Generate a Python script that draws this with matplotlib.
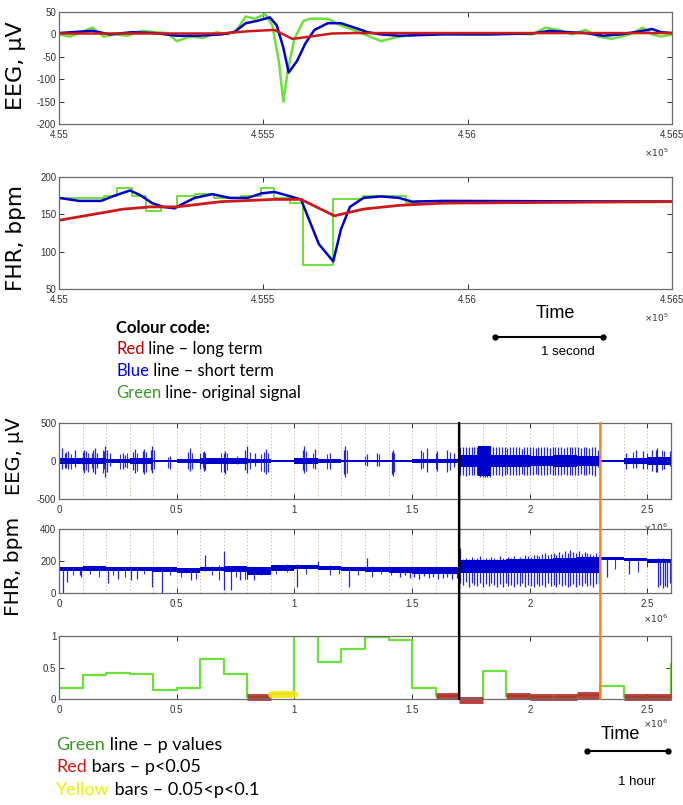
import numpy as np
import matplotlib
matplotlib.use('Agg')
import matplotlib.pyplot as plt
from matplotlib.patches import ConnectionPatch

plt.rcParams['axes.unicode_minus'] = False
plt.rcParams['font.family'] = ['Liberation Sans', 'DejaVu Sans']

W, H = 683, 805

# ---- short window (x in samples, around 4.55e5) ----
eeg_green_t = [455000, 455027, 455054, 455082, 455109, 455136, 455168, 455201, 455234, 455266,
               455288, 455321, 455353, 455386, 455413, 455435, 455457, 455478, 455505, 455522,
               455538, 455549, 455560, 455576, 455598, 455614, 455658, 455690, 455734, 455788,
               455832, 455886, 455940, 455995, 456049, 456103, 456158, 456190, 456223, 456255,
               456288, 456321, 456353, 456397, 456429, 456451, 456473, 456500]
eeg_green_v = [0, -5, 5, 15, -5, 0, -3, 8, 5, 3,
               -15, -5, -8, 5, 0, 10, 40, 35, 45, 20,
               -60, -150, -80, -10, 30, 35, 35, 20, 5, -15,
               -5, 0, 3, 0, 0, 2, 0, 15, 10, 0,
               10, -5, -10, 0, 15, 0, -5, 0]
eeg_blue_t = [455000, 455082, 455125, 455179, 455234, 455288, 455342, 455397, 455429, 455457,
              455484, 455516, 455533, 455549, 455562, 455582, 455603, 455625, 455658, 455690,
              455723, 455755, 455788, 455832, 455940, 456049, 456158, 456201, 456245, 456288,
              456332, 456375, 456429, 456451, 456473, 456500]
eeg_blue_v = [3, 8, 0, 5, 3, -3, -3, 0, 5, 25,
              30, 38, 20, -30, -85, -60, -20, 10, 25, 25,
              15, 5, 0, -3, 0, 0, 2, 8, 5, 3,
              -3, 0, 8, 12, 5, 3]
eeg_red_t = [455000, 455397, 455462, 455527, 455549, 455571, 455614, 455668, 455723, 456500]
eeg_red_v = [2, 2, 7, 10, 0, -10, -5, 2, 3, 3]

fhr_green_edges = [455000, 455109, 455141, 455179, 455212, 455250, 455288, 455332, 455380, 455446,
                   455495, 455527, 455565, 455598, 455671, 455745, 455848, 455875, 456500]
fhr_green_v = [172, 175, 185, 175, 155, 160, 175, 177, 172, 175,
               185, 172, 165, 82, 170, 175, 165, 168]
fhr_blue_t = [455000, 455049, 455103, 455136, 455174, 455201, 455228, 455255, 455283, 455299,
              455332, 455375, 455418, 455462, 455495, 455527, 455560, 455592, 455614, 455636,
              455671, 455690, 455712, 455745, 455788, 455832, 455864, 455940, 456500]
fhr_blue_v = [172, 168, 168, 175, 182, 175, 165, 160, 158, 163,
              172, 177, 172, 172, 178, 180, 175, 170, 140, 110,
              87, 130, 160, 172, 174, 172, 167, 168, 167]
fhr_red_t = [455000, 455157, 455223, 455288, 455397, 455527, 455592, 455674, 455745, 455832, 455940, 456500]
fhr_red_v = [142, 157, 160, 160, 167, 170, 170, 148, 157, 162, 165, 167]

# ---- long recording (x in 1e6 samples) ----
bins = np.round(np.arange(0, 2.61, 0.1), 2)
eeg_core = [40, 45, 30, 40, 15, 30, 35, 35, 30, 15, 35, 20, 15,
            15, 10, 25, 25, 75, 80, 75, 70, 75, 70, 15, 40, 50]
eeg_burst = [1.78, 1.835]
eeg_spk_t = [0.011, 0.025, 0.04, 0.068, 0.1, 0.108, 0.145, 0.153, 0.16, 0.196, 0.205, 0.217,
             0.274, 0.28, 0.315, 0.323, 0.355, 0.363, 0.39, 0.397, 0.472, 0.55, 0.557, 0.614,
             0.62, 0.7, 0.706, 0.756, 0.792, 0.799, 0.834, 0.872, 0.879, 1.035, 1.04, 1.087,
             1.153, 1.21, 1.217, 1.309, 1.352, 1.414, 1.419, 1.536, 1.565, 1.607, 1.65, 1.678,
             1.705, 1.717, 1.729, 1.741, 1.753, 1.765, 1.777, 1.789, 1.80, 1.81, 1.82, 1.83,
             1.845, 1.857, 1.869, 1.881, 1.893, 1.905, 1.917, 1.929, 1.941, 1.953, 1.965, 1.977,
             1.989, 2.001, 2.013, 2.025, 2.037, 2.049, 2.061, 2.073, 2.085, 2.097, 2.109, 2.121,
             2.133, 2.145, 2.157, 2.169, 2.181, 2.193, 2.205, 2.217, 2.229, 2.241, 2.253, 2.265,
             2.277, 2.289, 2.41, 2.45, 2.48, 2.52, 2.535, 2.54, 2.57, 2.595]
eeg_spk_hi = [174, 110, 130, 150, 120, 143, 150, 174, 110, 196, 140, 110,
              110, 80, 120, 152, 130, 152, 150, 196, 60, 120, 174, 130,
              100, 110, 130, 65, 150, 196, 110, 120, 152, 150, 196, 152,
              110, 150, 196, 90, 110, 120, 150, 150, 175, 130, 150, 110,
              190, 185, 190, 180, 190, 185, 190, 200, 200, 200, 200, 200,
              185, 190, 180, 190, 185, 170, 190, 185, 180, 190, 160, 185,
              190, 180, 185, 170, 190, 180, 185, 190, 175, 185, 190, 180,
              185, 170, 190, 185, 180, 190, 185, 170, 180, 185, 175, 190,
              180, 150, 110, 150, 130, 150, 140, 175, 130, 130]
eeg_spk_lo = [109, 90, 110, 80, 120, 152, 150, 174, 90, 217, 150, 60,
              110, 80, 120, 152, 150, 174, 120, 152, 110, 100, 130, 130,
              120, 150, 174, 40, 120, 152, 60, 150, 174, 120, 152, 110,
              110, 170, 217, 60, 60, 170, 200, 110, 150, 130, 150, 80,
              190, 185, 195, 180, 190, 190, 185, 210, 210, 210, 210, 210,
              190, 185, 180, 195, 185, 175, 190, 180, 185, 190, 165, 180,
              190, 185, 180, 175, 190, 185, 180, 190, 170, 185, 190, 180,
              185, 175, 190, 180, 185, 190, 180, 175, 185, 180, 170, 190,
              200, 80, 110, 90, 110, 130, 150, 150, 110, 60]
# smaller spikes inside the clusters
eeg_spk2_t = [0.03, 0.05, 0.115, 0.125, 0.14, 0.185, 0.19, 0.26, 0.29, 0.33, 0.37, 0.405,
              0.465, 0.565, 0.6, 0.61, 0.69, 0.715, 0.81, 0.86, 0.89, 1.05, 1.08, 1.14,
              1.225, 1.3, 1.36, 1.425, 1.545, 1.6, 1.66, 2.44, 2.5, 2.56]
eeg_spk2_hi = [120, 90, 130, 110, 100, 150, 130, 90, 100, 110, 120, 140,
               50, 110, 100, 120, 100, 110, 120, 90, 110, 130, 110, 90,
               140, 70, 90, 110, 120, 100, 120, 120, 110, 140]
eeg_spk2_lo = [90, 100, 120, 140, 90, 160, 110, 100, 90, 130, 140, 110,
               90, 100, 110, 90, 140, 120, 110, 130, 150, 130, 90, 100,
               160, 50, 60, 150, 90, 110, 120, 90, 100, 120]

fhr_top = [165, 168, 162, 160, 160, 155, 165, 170, 165, 172, 175, 170, 165,
           162, 162, 160, 165, 205, 205, 210, 215, 220, 225, 225, 218, 215]
fhr_bot = [135, 138, 135, 135, 132, 128, 135, 132, 115, 140, 150, 145, 140,
           132, 128, 120, 118, 125, 125, 125, 125, 125, 125, 205, 198, 190]
fhr_spk_t = [0.015, 0.035, 0.09, 0.095, 0.21, 0.25, 0.305, 0.33, 0.394, 0.437, 0.56, 0.62,
             0.70, 0.73, 0.77, 0.80, 0.83, 1.01, 1.10, 1.23, 1.309,
             1.45, 1.47, 1.49, 1.51, 1.53, 1.55, 1.57, 1.59, 1.61, 1.63, 1.65, 1.67, 1.69,
             1.705, 1.717, 1.729, 1.741, 1.753, 1.765, 1.777, 1.789, 1.801, 1.813, 1.825, 1.837,
             1.849, 1.861, 1.873, 1.885, 1.897, 1.909, 1.921, 1.933, 1.945, 1.957, 1.969, 1.981,
             1.993, 2.005, 2.017, 2.029, 2.041, 2.053, 2.065, 2.077, 2.089, 2.101, 2.113, 2.125,
             2.137, 2.149, 2.161, 2.173, 2.185, 2.197, 2.209, 2.221, 2.233, 2.245, 2.257, 2.269,
             2.281, 2.293, 2.33, 2.42, 2.545, 2.555, 2.565, 2.575, 2.585, 2.595]
fhr_spk_hi = [160, 160, 160, 160, 160, 160, 160, 160, 160, 155, 150, 240,
              260, 160, 160, 160, 160, 180, 200, 160, 220,
              160, 160, 160, 160, 160, 160, 160, 160, 160, 160, 160, 160, 160,
              280, 215, 220, 210, 225, 215, 220, 230, 215, 220, 210, 225,
              220, 215, 230, 220, 215, 225, 220, 230, 215, 225, 220, 235,
              230, 225, 240, 235, 230, 245, 250, 240, 245, 250, 240, 255,
              245, 260, 250, 270, 255, 250, 260, 245, 255, 250, 245, 240,
              250, 245, 215, 210, 220, 215, 220, 215, 215, 210]
fhr_spk_lo = [0, 70, 110, 100, 60, 90, 80, 90, 40, 0, 80, 140,
              20, 20, 80, 90, 80, 40, 150, 40, 140,
              100, 110, 95, 100, 90, 105, 95, 100, 90, 95, 100, 90, 95,
              60, 50, 70, 40, 60, 50, 45, 60, 40, 55, 45, 60,
              50, 40, 55, 35, 60, 45, 50, 40, 55, 45, 60, 40,
              50, 45, 40, 55, 45, 50, 40, 60, 45, 50, 40, 55,
              45, 50, 40, 45, 55, 40, 50, 45, 60, 45, 50, 40,
              55, 60, 100, 120, 40, 50, 30, 45, 35, 60]
fhr_spk2_t = [0.06, 0.13, 0.17, 0.23, 0.28, 0.36, 0.47, 0.52, 0.58, 0.65, 0.68, 0.75, 0.79,
              0.86, 0.92, 0.97, 1.05, 1.15, 1.19, 1.27, 1.33, 1.37, 1.41, 2.36, 2.46, 2.5]
fhr_spk2_hi = [165, 165, 162, 162, 160, 160, 158, 155, 155, 170, 175, 168, 168,
               165, 170, 180, 175, 172, 170, 165, 168, 165, 165, 222, 215, 212]
fhr_spk2_lo = [110, 120, 100, 110, 100, 120, 110, 100, 90, 110, 80, 100, 90,
               110, 120, 130, 120, 110, 120, 110, 100, 120, 110, 150, 130, 160]

p_values = [0.17, 0.38, 0.41, 0.39, 0.14, 0.17, 0.64, 0.39, 0.03, 0.08, 1.0, 0.58, 0.80,
            0.98, 0.94, 0.17, 0.04, -0.02, 0.45, 0.04, 0.03, 0.03, 0.06, 0.20, 0.03, 0.03]
p_last = 0.55
red_bins = [8, 16, 17, 19, 20, 21, 22, 24, 25]
yellow_bins = [9]
event_black = 1.7
event_orange = 2.3

BLUE = '#0000cc'
GREEN = '#6ee03a'
RED = '#cc1a1a'


def box(top, bottom, left=59, right=672):
    return [left / W, 1 - bottom / H, (right - left) / W, (bottom - top) / H]


def matlab_axes(ax):
    for s in ax.spines.values():
        s.set_color('#6a6a6a')
        s.set_linewidth(0.9)
    ax.tick_params(direction='in', top=True, right=True, length=3.5, width=0.7,
                   color='#333333', labelsize=7, labelcolor='#333333', pad=2)
    ax.tick_params(axis='x', pad=4)


fig = plt.figure(figsize=(W / 100, H / 100), dpi=100)

# ---------- panel 1: EEG short ----------
ax1 = fig.add_axes(box(12, 124))
ax1.plot(eeg_green_t, eeg_green_v, color=GREEN, lw=1.8)
ax1.plot(eeg_blue_t, eeg_blue_v, color=BLUE, lw=1.8)
ax1.plot(eeg_red_t, eeg_red_v, color=RED, lw=1.8)
ax1.set_ylim(-200, 50)
ax1.set_yticks([50, 0, -50, -100, -150, -200])

# ---------- panel 2: FHR short ----------
ax2 = fig.add_axes(box(177, 289))
ax2.step(fhr_green_edges, fhr_green_v + [fhr_green_v[-1]], where='post', color=GREEN, lw=1.4)
ax2.plot(fhr_blue_t, fhr_blue_v, color=BLUE, lw=1.8)
ax2.plot(fhr_red_t, fhr_red_v, color=RED, lw=2.0)
ax2.set_ylim(50, 200)
ax2.set_yticks([50, 100, 150, 200])

for ax in (ax1, ax2):
    matlab_axes(ax)
    ax.set_xlim(455000, 456500)
    ax.set_xticks([455000, 455500, 456000, 456500])
    ax.set_xticklabels(['4.55', '4.555', '4.56', '4.565'])
    ax.text(0.975, -0.2, r'$\times10^{5}$', transform=ax.transAxes, fontsize=6.5,
            color='#333333', ha='center', va='top')

# ---------- panel 3: EEG long ----------
ax3 = fig.add_axes(box(423, 499, right=671))
core = np.r_[eeg_core, eeg_core[-1]]
ax3.fill_between(bins, -core, core, step='post', color=BLUE, lw=0)
ax3.fill_between(eeg_burst, -195, 195, color=BLUE, lw=0)
ax3.vlines(eeg_spk_t, -np.array(eeg_spk_lo), eeg_spk_hi, color=BLUE, lw=0.9, alpha=0.85)
ax3.vlines(eeg_spk2_t, -np.array(eeg_spk2_lo), eeg_spk2_hi, color=BLUE, lw=0.8, alpha=0.8)
ax3.set_ylim(-500, 500)
ax3.set_yticks([-500, 0, 500])

# ---------- panel 4: FHR long ----------
ax4 = fig.add_axes(box(529, 593, right=671))
ax4.fill_between(bins, np.r_[fhr_bot, fhr_bot[-1]], np.r_[fhr_top, fhr_top[-1]],
                 step='post', color=BLUE, lw=0)
ax4.vlines(fhr_spk_t, fhr_spk_lo, fhr_spk_hi, color=BLUE, lw=0.9, alpha=0.85)
ax4.vlines(fhr_spk2_t, fhr_spk2_lo, fhr_spk2_hi, color=BLUE, lw=0.8, alpha=0.8)
ax4.set_ylim(0, 400)
ax4.set_yticks([0, 200, 400])

# ---------- panel 5: p values ----------
ax5 = fig.add_axes(box(636, 699, right=671))
pv = np.r_[p_values, p_last]
ax5.step(bins, pv, where='post', color=GREEN, lw=1.6)
for b in red_bins:
    ax5.plot([bins[b], bins[b + 1]], [p_values[b], p_values[b]], color='#b22222',
             lw=5, alpha=0.85, solid_capstyle='butt', clip_on=False)
for b in yellow_bins:
    ax5.plot([bins[b], bins[b + 1]], [p_values[b], p_values[b]], color='#f5e616',
             lw=5, alpha=0.9, solid_capstyle='round', clip_on=False)
ax5.set_ylim(0, 1)
ax5.set_yticks([0, 0.5, 1])
ax5.set_yticklabels(['0', '0.5', '1'])

for ax in (ax3, ax4, ax5):
    matlab_axes(ax)
    ax.set_xlim(0, 2.6)
    ax.set_xticks([0, 0.5, 1, 1.5, 2, 2.5])
    ax.set_xticklabels(['0', '0.5', '1', '1.5', '2', '2.5'])
    ax.text(0.975, -0.3, r'$\times10^{6}$', transform=ax.transAxes, fontsize=6.5,
            color='#333333', ha='center', va='top')
for ax in (ax3, ax4):
    for k in range(1, 26):
        ax.axvline(k / 10, color='#c9a184', lw=0.7, ls=(0, (1, 2.5)), zorder=0)

# event markers crossing the three long panels
for xv, col in ((event_black, 'black'), (event_orange, '#f0862a')):
    con = ConnectionPatch(xyA=(xv, 500), coordsA='data', axesA=ax3,
                          xyB=(xv, 0), coordsB='data', axesB=ax5, color=col, lw=1.8)
    fig.add_artist(con)


# ---------- labels and annotations ----------
def ftext(x, y, s, **kw):
    return fig.text(x / W, 1 - y / H, s, **kw)


ftext(16, 66, 'EEG, μV', rotation=90, fontsize=16, ha='center', va='center', family='DejaVu Sans')
ftext(16, 238, 'FHR, bpm', rotation=90, fontsize=15.5, ha='center', va='center', family='DejaVu Sans')
ftext(14, 456, 'EEG, μV', rotation=90, fontsize=14, ha='center', va='center', family='DejaVu Sans')
ftext(14, 566, 'FHR, bpm', rotation=90, fontsize=14.5, ha='center', va='center', family='DejaVu Sans')

ftext(555, 313, 'Time', fontsize=13, ha='center', va='center')
ftext(620, 734, 'Time', fontsize=13, ha='center', va='center')
fig.add_artist(plt.Line2D([495 / W, 603 / W], [1 - 337 / H] * 2, color='black', lw=1.5,
                          marker='o', markersize=3.5))
ftext(568, 352, '1 second', fontsize=9.5, ha='center', va='center')
fig.add_artist(plt.Line2D([587 / W, 668 / W], [1 - 751 / H] * 2, color='black', lw=1.5,
                          marker='o', markersize=3.5))
ftext(637, 782, '1 hour', fontsize=9.5, ha='center', va='center')


def key_line(x, y, word, color, rest, size):
    t = ftext(x, y, word, color=color, fontsize=size, ha='left', va='center', family='Lato')
    fig.add_artist(matplotlib.text.Annotation(
        rest, xy=(1, 0.5), xycoords=t, ha='left', va='center', fontsize=size,
        family='Lato', color='black', annotation_clip=False))


ftext(116, 328, 'Colour code:', fontsize=12, fontweight='bold', ha='left', va='center', family='Lato')
key_line(116, 349, 'Red', '#c00000', ' line – long term', 12)
key_line(116, 371, 'Blue', '#0000ee', ' line – short term', 12)
key_line(116, 393, 'Green', '#3c9a2a', ' line- original signal', 12)

key_line(56, 745, 'Green', '#3c9a2a', ' line – p values', 13)
key_line(56, 767, 'Red', '#d01818', ' bars – p<0.05', 13)
key_line(56, 790, 'Yellow', '#f0f000', ' bars – 0.05<p<0.1', 13)

fig.savefig('out.png', dpi=100)
